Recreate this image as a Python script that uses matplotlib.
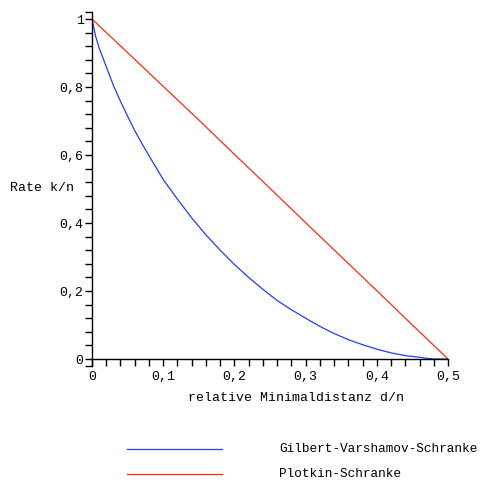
import numpy as np
import matplotlib
matplotlib.use('Agg')
import matplotlib.pyplot as plt
from matplotlib.lines import Line2D
from matplotlib.ticker import FixedLocator, FuncFormatter

plt.rcParams['font.family'] = ['Liberation Mono', 'DejaVu Sans Mono']

# relative minimum distance d/n
gv_x = [0, 0.005, 0.01, 0.02, 0.03, 0.04, 0.05, 0.06, 0.07, 0.08, 0.09, 0.10,
        0.12, 0.14, 0.16, 0.18, 0.20, 0.22, 0.24, 0.26, 0.28, 0.30, 0.32,
        0.34, 0.36, 0.38, 0.40, 0.42, 0.44, 0.46, 0.47, 0.48, 0.50]
gv_y = [1.0, 0.95, 0.915, 0.86, 0.805, 0.758, 0.714, 0.672, 0.634, 0.598, 0.563, 0.528,
        0.47, 0.415, 0.365, 0.32, 0.278, 0.24, 0.205, 0.172, 0.145, 0.12, 0.096,
        0.075, 0.057, 0.042, 0.029, 0.018, 0.01, 0.005, 0.002, 0.0, 0.0]

plotkin_x = [0, 0.05, 0.10, 0.15, 0.20, 0.25, 0.30, 0.35, 0.40, 0.45, 0.50]
plotkin_y = [1.0, 0.901, 0.802, 0.703, 0.602, 0.502, 0.401, 0.301, 0.201, 0.1, 0.0]

x_major = [0, 0.1, 0.2, 0.3, 0.4, 0.5]
y_major = [0, 0.2, 0.4, 0.6, 0.8, 1]

fig = plt.figure(figsize=(4.85, 4.8), dpi=100)
ax = fig.add_axes([92 / 485, 1 - 365.8 / 480, 356 / 485, 353.6 / 480])

ax.plot(gv_x, gv_y, color='#1f3cff', linewidth=0.9)
ax.plot(plotkin_x, plotkin_y, color='#ff2a10', linewidth=0.9)

ax.set_xlim(0, 0.5)
ax.set_ylim(-0.02, 1.02)

for s in ['top', 'right']:
    ax.spines[s].set_visible(False)
ax.spines['bottom'].set_position(('data', 0))
ax.spines['left'].set_linewidth(1.0)
ax.spines['bottom'].set_linewidth(1.0)

ax.xaxis.set_major_locator(FixedLocator(x_major))
ax.xaxis.set_minor_locator(FixedLocator(np.arange(0, 0.501, 0.02)))
ax.yaxis.set_major_locator(FixedLocator(y_major))
ax.yaxis.set_minor_locator(FixedLocator(list(np.arange(0, 1.001, 0.04)) + [-0.02, 1.02]))

fmt = FuncFormatter(lambda v, p: ('%g' % round(v, 2)).replace('.', ','))
ax.xaxis.set_major_formatter(fmt)
ax.yaxis.set_major_formatter(fmt)

fs = 9.5
ax.tick_params(axis='x', which='both', direction='out', length=5, width=1, pad=4, labelsize=fs)
ax.tick_params(axis='y', which='both', direction='out', length=5, width=1, pad=1, labelsize=fs)

fig.text(10 / 485, 1 - 188 / 480, 'Rate k/n', fontsize=fs, va='center', ha='left')
fig.text(296 / 485, 1 - 398 / 480, 'relative Minimaldistanz d/n', fontsize=fs,
         va='center', ha='center')

# legend
fig.add_artist(Line2D([127 / 485, 222 / 485], [1 - 449 / 480, 1 - 449 / 480],
                      color='#1f3cff', linewidth=0.9))
fig.add_artist(Line2D([127 / 485, 222 / 485], [1 - 474 / 480, 1 - 474 / 480],
                      color='#ff2a10', linewidth=0.9))
fig.text(279 / 485, 1 - 449 / 480, 'Gilbert-Varshamov-Schranke', fontsize=9.2, va='center')
fig.text(279 / 485, 1 - 474 / 480, 'Plotkin-Schranke', fontsize=9.2, va='center')

fig.savefig('out.png', dpi=100)
